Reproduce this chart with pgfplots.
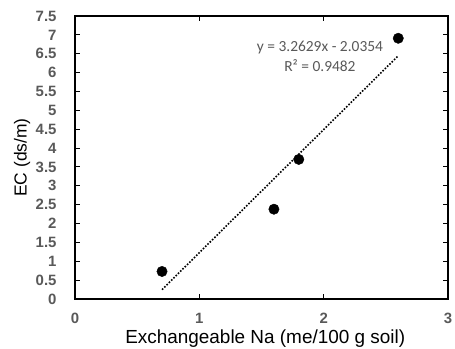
\documentclass[border=0pt]{standalone}
\usepackage{pgfplots}
\pgfplotsset{compat=1.18}
\usepackage{fontspec}
\setmainfont{Liberation Sans}
\newfontfamily\calibri{Carlito}
\definecolor{tickgray}{HTML}{595959}
\begin{document}
\begin{tikzpicture}
\useasboundingbox (-75bp,-50bp) rectangle (380bp,299bp);
\begin{axis}[
  scale only axis, width=373bp, height=283bp,
  xmin=0, xmax=3, ymin=0, ymax=7.5,
  xtick={0,1,2,3},
  ytick={0,0.5,1,1.5,2,2.5,3,3.5,4,4.5,5,5.5,6,6.5,7,7.5},
  yticklabels={0,0.5,1,1.5,2,2.5,3,3.5,4,4.5,5,5.5,6,6.5,7,7.5},
  tick align=inside, major tick length=5bp,
  axis line style={line width=1.2bp, black},
  tick style={black, line width=1bp},
  /pgf/number format/assume math mode=true,
  ticklabel style={font=\bfseries\fontsize{15}{17}\selectfont, text=tickgray},
  xticklabel style={yshift=-11bp},
  yticklabel style={xshift=-15bp},
  xlabel={Exchangeable Na (me/100 g soil)},
  ylabel={EC (ds/m)},
  xlabel style={font=\fontsize{19}{21}\selectfont, at={(axis description cs:0.51,-0.14)}, anchor=center},
  ylabel style={font=\fontsize{17.5}{20}\selectfont, at={(axis description cs:-0.142,0.5)}, anchor=center},
  clip=false,
]
\addplot[only marks, mark=*, mark size=5.2bp, black, mark options={fill=black}]
  coordinates {(0.7,0.73) (1.6,2.38) (1.8,3.70) (2.6,6.91)};
\addplot[black, line width=1.6bp, dash pattern=on 1.6bp off 1.6bp]
  coordinates {(0.7,0.2486) (2.6,6.4481)};
\node[font=\calibri\fontsize{15.5}{17}\selectfont, text=tickgray] at (axis cs:1.97,6.66) {y = 3.2629x - 2.0354};
\node[font=\calibri\fontsize{15.5}{17}\selectfont, text=tickgray] at (axis cs:1.97,6.18) {R² = 0.9482};
\end{axis}
\end{tikzpicture}
\end{document}
